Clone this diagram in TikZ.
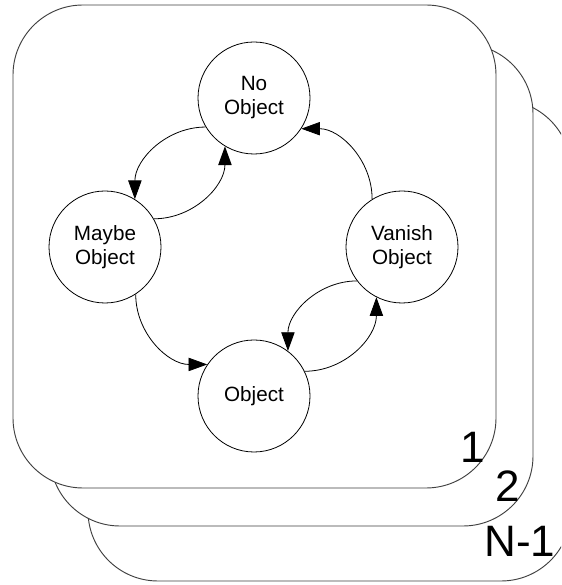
\documentclass[tikz,border=0pt]{standalone}
\usepackage{fontspec}
\setmainfont{Liberation Sans}
\usetikzlibrary{arrows.meta}

\tikzset{
  layer/.style={draw=black!75, line width=0.7pt, fill=white, rounded corners=52.5pt},
  state/.style={circle, draw=black, line width=0.6pt, fill=white, minimum size=84pt,
                inner sep=0pt, align=center, font=\fontsize{15.5}{18}\selectfont},
  trans/.style={draw=black, line width=0.6pt, -{Triangle[length=14pt, width=10pt]}},
  layerlabel/.style={anchor=base, inner sep=0pt, font=\fontsize{33}{36}\selectfont}
}

\begin{document}
\begin{tikzpicture}[x=0.75pt, y=0.75pt]
  \useasboundingbox (0,0) rectangle (561,585);
  \clip (0,0) rectangle (561,585);

  % stacked layers, back to front
  \path[layer] (88,4) rectangle (571,485);
  \path[layer] (50,59) rectangle (533,541);
  \path[layer] (13,97) rectangle (496,580);

  % states
  \node[state] (no)     at (254,487) {No\\Object};
  \node[state] (maybe)  at (105,338) {Maybe\\Object};
  \node[state] (vanish) at (402,338) {Vanish\\Object};
  \node[state] (obj)    at (254,189) {Object};

  % transitions
  \draw[trans] (no.211.7)    to[out=180, in=90]  (maybe.58.5);
  \draw[trans] (maybe.30.6)  to[out=0,   in=-90] (no.239.4);
  \draw[trans] (maybe.303)   to[out=-90, in=180] (obj.146.6);
  \draw[trans] (obj.26.6)    to[out=0,   in=-90] (vanish.243.4);
  \draw[trans] (vanish.217.3) to[out=180, in=90] (obj.53.5);
  \draw[trans] (vanish.122.5) to[out=90,  in=0]  (no.327.5);

  % layer numbers
  \node[layerlabel] (l1) at (473,122) {1};
  \node[layerlabel] (l2) at (508,83) {2};
  \node[layerlabel] (l3) at (520,28) {N-1};
\end{tikzpicture}
\end{document}
